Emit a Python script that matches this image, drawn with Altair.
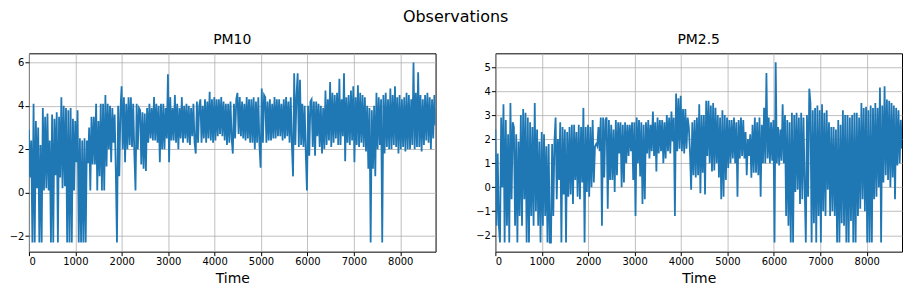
import altair as alt
import numpy as np
import pandas as pd

# PM10 (log scale values): 4 samples per 100-hour bin
pm10 = [
    2.9, 0.7, 2.4, -2.3,   4.1, -2.3, 3.3, 0.2,   3.0, -2.3, 2.2, -2.3,   3.9, 0.1, 3.5, 0.2,
    3.65, 0.1, 2.4, -2.3,  3.6, -2.3, 3.4, 0.8,   3.7, -2.3, 3.5, 0.7,    4.4, 0.2, 4.0, 0.3,
    3.9, -2.3, 3.8, -2.3,  3.9, -2.3, 3.4, 0.1,   3.3, 1.4, 3.8, -2.3,    2.5, -2.3, 2.4, -2.3,
    2.5, -2.3, 2.4, 1.35,  3.0, 0.1, 3.5, 1.3,    3.5, 1.3, 4.1, 0.1,     3.3, 0.75, 4.1, 0.1,
    4.1, 0.1, 4.5, 1.2,    4.1, 2.0, 4.0, 1.4,    3.9, 2.3, 3.6, 1.0,     -2.3, 4.0, 0.75, 3.8,
    4.9, 2.0, 4.4, 1.4,    4.1, 2.0, 4.4, 2.2,    4.4, 2.1, 4.1, 1.8,     0.1, 4.1, 2.0, 3.9,
    3.8, 1.3, 3.7, 1.1,    3.65, 1.0, 3.9, 2.3,   4.1, 2.5, 3.9, 2.4,     4.4, 2.4, 4.1, 2.3,
    4.0, 1.4, 4.1, 2.0,    4.1, 2.0, 3.9, 2.5,    5.45, 1.4, 4.4, 2.4,    3.9, 2.4, 4.5, 2.3,
    4.1, 2.0, 3.9, 2.5,    4.4, 2.3, 4.0, 2.5,    4.1, 2.3, 4.0, 2.2,     3.9, 2.6, 4.1, 2.3,
    1.8, 4.2, 2.3, 4.0,    4.3, 2.3, 4.0, 2.5,    4.3, 2.3, 4.2, 2.5,     4.65, 2.4, 4.3, 2.3,
    4.4, 2.4, 4.3, 2.6,    4.3, 2.7, 4.4, 2.6,    4.2, 2.4, 4.1, 2.2,     4.1, 2.3, 4.2, 2.5,
    1.8, 4.1, 2.5, 4.3,    4.6, 2.7, 4.4, 2.6,    4.2, 2.5, 4.1, 2.4,     4.4, 2.5, 4.3, 2.3,
    4.3, 2.3, 4.4, 2.0,    4.2, 2.3, 4.4, 2.2,    1.15, 4.8, 2.3, 4.5,    4.4, 2.3, 4.2, 2.4,
    4.3, 2.4, 4.1, 2.5,    4.4, 2.5, 4.3, 2.6,    4.3, 2.6, 4.1, 2.4,     4.3, 2.5, 4.4, 2.6,
    4.2, 2.3, 4.4, 2.2,    0.75, 5.5, 2.2, 4.5,   5.5, 2.1, 5.2, 2.2,     4.1, 2.1, 4.0, 1.8,
    0.1, 4.0, 1.7, 4.2,    4.3, 2.1, 4.2, 1.7,    4.2, 2.6, 4.1, 2.1,     4.0, 1.8, 3.9, 2.0,
    4.7, 2.2, 4.3, 2.4,    5.1, 2.1, 4.6, 2.3,    4.5, 2.5, 4.6, 2.2,     5.25, 2.2, 4.3, 2.6,
    5.5, 1.45, 4.4, 2.3,   4.5, 2.2, 4.7, 2.4,    4.9, 1.4, 4.4, 2.2,     4.95, 2.1, 4.6, 2.3,
    4.5, 2.1, 4.4, 1.9,    4.0, 1.1, 3.9, -2.3,   3.8, 1.1, 4.0, 0.75,    4.6, 2.0, 4.4, 2.2,
    4.3, -2.3, 4.5, 1.8,   4.6, 2.1, 4.3, 2.0,    4.8, 2.0, 4.5, 2.2,     4.9, 2.1, 4.4, 1.8,
    4.5, 2.0, 4.3, 2.1,    4.4, 1.9, 4.6, 2.0,    4.5, 2.0, 4.3, 2.2,     6.0, 2.0, 4.6, 2.1,
    5.55, 2.1, 4.5, 1.9,   4.3, 2.2, 4.5, 2.4,    4.6, 2.3, 4.4, 2.0,     4.3, 2.5, 4.5, 3.1,
]

# PM2.5 (log scale values): 4 samples per 100-hour bin
pm25 = [
    2.4, -1.6, 1.4, -1.6,  -2.3, 2.9, 0.0, 3.45,  -2.3, 2.8, -1.6, 2.2,   -2.3, 3.5, -0.5, 2.7,
    2.5, -1.6, 2.2, -2.3,  1.9, -1.2, 3.0, -1.6,  3.25, -0.5, 3.1, -2.3,  2.9, -2.3, 2.7, -1.2,
    2.5, -1.6, 3.5, -1.0,  2.4, -1.6, 1.9, -2.3,  2.3, -1.6, 2.2, -1.2,   1.7, -2.3, 1.8, -2.3,
    -2.3, 1.8, -1.2, 1.9,  2.9, -0.5, 2.0, 0.3,   2.7, -2.3, 2.5, -0.3,   2.4, -2.3, 2.3, -0.4,
    2.5, -0.3, 2.6, -0.7,  2.6, 0.3, 2.3, -0.4,   2.6, -0.5, 2.5, 0.2,    3.3, -2.3, 2.5, -0.2,
    2.6, -0.4, 2.5, 0.0,   2.8, 0.2, 1.7, 1.8,    1.7, 2.5, 1.5, 2.9,     -1.6, 2.9, 0.4, 2.8,
    2.9, -0.9, 2.8, 0.3,   2.6, 0.3, 2.4, -0.2,   2.8, 0.5, 2.7, 1.4,     2.7, 0.0, 2.6, 0.2,
    2.7, 1.0, 2.6, 1.3,    2.6, 1.5, 2.7, 0.3,    2.7, -1.2, 2.9, 1.0,    2.8, 0.45, 2.7, -0.7,
    2.6, -0.5, 2.7, 1.4,   2.8, 1.2, 2.6, 1.5,    3.15, 1.3, 2.7, 0.65,   2.9, 1.4, 2.8, 1.5,
    2.8, 1.0, 2.7, 1.2,    3.0, 1.5, 2.9, 1.4,    3.15, 1.9, 2.9, -1.2,   3.9, 1.5, 3.7, 1.6,
    3.8, 1.5, 3.25, 1.4,   3.25, 1.6, 2.9, 2.5,   1.5, -0.1, 2.7, 0.5,    2.8, 0.4, 2.9, 0.5,
    3.45, -0.25, 3.0, 0.6, 3.0, -0.3, 3.6, 1.3,   3.6, 1.0, 3.4, 0.65,    3.5, 0.7, 3.3, 1.0,
    3.0, 0.4, 2.9, -0.5,   3.2, -0.4, 3.0, 0.3,   2.9, 0.8, 2.8, 1.0,     2.8, 1.2, 2.9, 1.0,
    2.7, -0.4, 2.8, 1.2,   2.9, 1.3, 2.8, 1.2,    2.3, 0.5, 2.0, 1.3,     2.2, 0.4, 2.6, 0.6,
    2.9, 0.6, 2.7, 0.5,    2.9, -0.4, 2.6, 1.0,   3.3, 1.0, 4.75, 1.2,    2.9, 1.0, 2.7, 1.1,
    2.8, -2.3, 5.2, 1.0,   2.5, 0.9, 2.4, 1.1,    3.45, 1.0, 3.0, -1.2,   2.8, -1.6, 2.7, -2.3,
    3.1, -2.3, 3.0, -0.2,  3.1, -0.1, 2.9, -0.7,  3.1, -0.5, 2.9, 0.1,    -2.3, 3.0, -0.4, 4.1,
    3.5, -2.3, 3.2, -1.5,  3.3, -2.3, 3.4, -1.2,  3.2, -2.3, 3.45, -1.0,  3.1, -1.2, 3.2, -0.1,
    2.7, -1.2, 2.5, -1.0,  2.5, -1.2, 2.4, -2.3,  2.8, -2.3, 2.6, -1.5,   3.2, -1.6, 3.0, -2.3,
    3.0, -2.3, 2.9, -1.4,  3.0, -2.3, 3.1, -2.3,  3.1, -1.2, 2.9, -0.9,   3.5, -0.5, 3.3, -1.0,
    3.35, -2.3, 3.2, -2.3, 3.4, -2.3, 3.3, -0.5,  3.5, -0.4, 3.3, 0.0,    4.15, -2.3, 3.4, 0.2,
    4.2, 0.5, 3.65, 0.3,   3.6, 0.0, 3.5, 0.4,    3.4, -0.5, 3.3, 0.9,    3.2, 1.0, 2.8, 1.6,
]

x_ticks = [0, 1000, 2000, 3000, 4000, 5000, 6000, 7000, 8000]
pm10_ticks = [-2, 0, 2, 4, 6]
pm25_ticks = [-2, -1, 0, 1, 2, 3, 4, 5]

hours10 = np.linspace(0, 8759, len(pm10))
hours25 = np.linspace(0, 8759, len(pm25))
df10 = pd.DataFrame({"t": hours10, "v": pm10})
df25 = pd.DataFrame({"t": hours25, "v": pm25})


def panel(df, name, ydom, yticks):
    return alt.Chart(
        df,
        title=alt.TitleParams(name, fontSize=14, font="DejaVu Sans", fontWeight="normal",
                              color="black", offset=6),
    ).mark_line(color="#1f77b4", strokeWidth=1.8, clip=True).encode(
        x=alt.X("t:Q", scale=alt.Scale(domain=[0, 8760], nice=False, zero=False),
                axis=alt.Axis(values=x_ticks, title="Time", format="d")),
        y=alt.Y("v:Q", scale=alt.Scale(domain=ydom, nice=False, zero=False),
                axis=alt.Axis(values=yticks, title=None, format="d")),
    ).properties(width=408, height=199)


left = panel(df10, "PM10", [-2.72, 6.42], pm10_ticks)
right = panel(df25, "PM2.5", [-2.68, 5.57], pm25_ticks)

chart = alt.hconcat(left, right, spacing=38).properties(
    title=alt.TitleParams("Observations", fontSize=16, font="DejaVu Sans",
                          fontWeight="normal", color="black", anchor="middle", offset=8),
    padding={"left": 0, "top": 0, "right": 0, "bottom": 0},
).configure_view(
    stroke="black", strokeWidth=1
).configure_axis(
    grid=True, gridColor="#b0b0b0", gridWidth=0.8, domain=False,
    tickColor="black", tickSize=4, labelFontSize=10, labelFont="DejaVu Sans",
    labelColor="black", labelPadding=1, titleFontSize=14, titleFont="DejaVu Sans",
    titleFontWeight="normal", titleColor="black", titlePadding=5,
)

chart.save("out.html", embed_options={"renderer": "svg", "actions": False})
